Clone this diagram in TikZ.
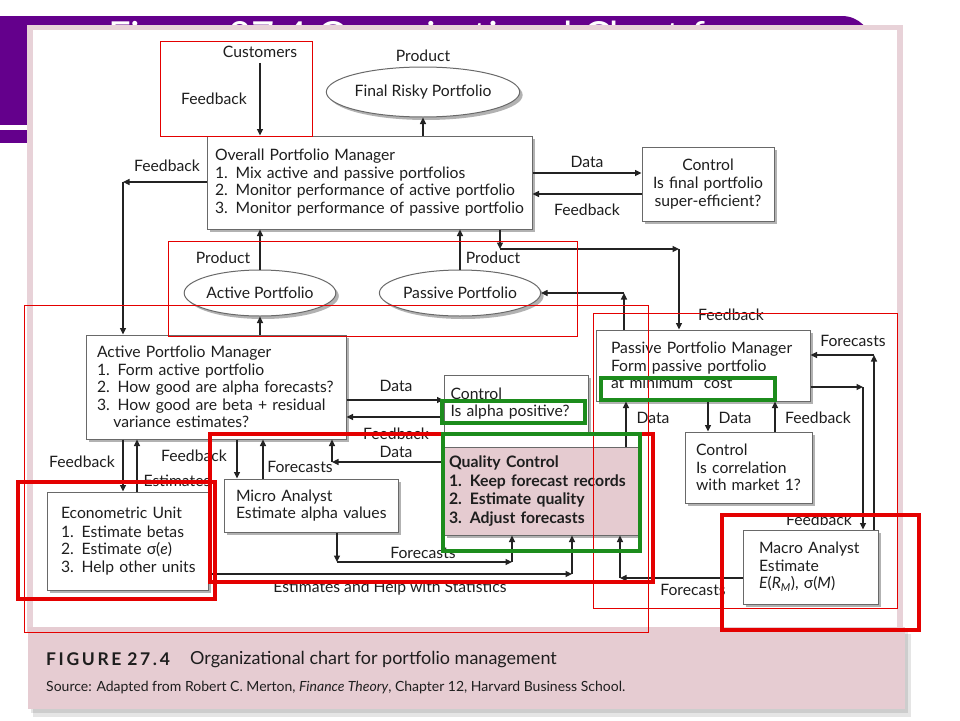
\documentclass[tikz,border=0pt]{standalone}
\usepackage{fontspec}
\setmainfont{Lato}
\usetikzlibrary{shapes.geometric,shadows,arrows.meta}
\definecolor{ttl}{RGB}{100,0,140}
\definecolor{pinkb}{RGB}{232,210,216}
\definecolor{capc}{RGB}{230,204,210}
\definecolor{qcpink}{RGB}{229,203,208}
\definecolor{lnc}{RGB}{35,35,35}
\definecolor{boxc}{RGB}{105,105,105}
\definecolor{txc}{RGB}{30,30,30}
\definecolor{annred}{RGB}{228,0,0}
\definecolor{anngreen}{RGB}{28,140,28}
\newcommand{\fs}{\fontsize{15.7}{17.6}\selectfont}
\newcommand{\fsb}{\fontsize{15.8}{18.5}\selectfont\bfseries}
\begin{document}
\begin{tikzpicture}[x=1pt,y=-1pt,
  box/.style={draw=boxc, line width=1pt, fill=white, text=txc,
     drop shadow={shadow xshift=3pt, shadow yshift=-3pt, opacity=0.3, fill=black},
     font=\fs, align=left, inner ysep=0pt},
  ell/.style={ellipse, draw=boxc, line width=1pt, fill=white, text=txc, font=\fs, inner sep=0pt,
     drop shadow={shadow xshift=3pt, shadow yshift=-3pt, opacity=0.3, fill=black}},
  arr/.style={draw=lnc, line width=1.2pt, -{Triangle[length=6.5pt,width=6pt]}},
  lbl/.style={font=\fs, text=txc, inner sep=0pt},
  thinred/.style={draw=annred, line width=1pt},
  thickred/.style={draw=annred, line width=3.5pt},
  thickgreen/.style={draw=anngreen, line width=4pt}]
% background
\useasboundingbox (0,0) rectangle (960,720);
\fill[white] (0,0) rectangle (960,720);
\fill[ttl, rounded corners=30pt] (-40,16) rectangle (872,300);
\fill[white] (-1,125) rectangle (27,130);
\fill[white] (-1,143) rectangle (27,301);
\node[anchor=base west, inner sep=0pt, text=white, font=\fontsize{40}{44}\selectfont] (title) at (108,50) {Figure 27.4 Organizational Chart for};
% panel
\fill[pinkb] (27,25) rectangle (903,632);
\fill[white] (33,30) rectangle (897,627);
\fill[black, opacity=0.10] (33,634) rectangle (911,717);
\fill[black, opacity=0.10] (31,632) rectangle (908,713);
\fill[capc] (28,627) rectangle (905,709);
\node[anchor=base west, inner sep=0pt, text=txc, font=\fontsize{17.5}{20}\selectfont\bfseries\addfontfeatures{LetterSpace=15}] (fig) at (46,665) {FIGURE\hspace{6pt}27.4};
\node[anchor=base west, inner sep=0pt, text=txc, font=\fontsize{18}{21}\selectfont] (capt) at (190,664) {Organizational chart for portfolio management};
\node[anchor=base west, inner sep=0pt, text=txc, font=\fontsize{14}{16}\selectfont] (src) at (46,691) {Source: Adapted from Robert C. Merton, \textit{Finance Theory}, Chapter 12, Harvard Business School.};
% nodes
\node[ell, minimum width=177pt, minimum height=50pt] (frp) at (423,92) {Final Risky Portfolio};
\node[box, minimum width=325pt, minimum height=93pt, text width=309pt, inner xsep=8pt] (opm) at (369.5,182.5)
 {Overall Portfolio Manager\\1. Mix active and passive portfolios\\2. Monitor performance of active portfolio\\3. Monitor performance of passive portfolio};
\node[box, align=center, minimum width=132pt, minimum height=74pt, text width=124pt, inner xsep=4pt] (ctl1) at (708,184)
 {Control\\Is final portfolio\\super-efficient?};
\node[ell, minimum width=150pt, minimum height=46pt] (ap) at (260,293) {Active Portfolio};
\node[ell, minimum width=150pt, minimum height=46pt] (pp) at (460,293) {Passive Portfolio};
\node[box, minimum width=260pt, minimum height=104pt, text width=238pt, inner xsep=11pt] (apm) at (216,387)
 {Active Portfolio Manager\\1. Form active portfolio\\2. How good are alpha forecasts?\\3. How good are beta + residual\\\hspace*{1.05em}variance estimates?};
\node[box, minimum width=144pt, minimum height=57pt, text width=131pt, inner xsep=6.5pt] (ctla) at (516,403.5)
 {Control\\Is alpha positive?};
\node[box, fill=qcpink, font=\fsb, minimum width=194pt, minimum height=88pt, text width=184pt, inner xsep=5pt] (qc) at (541,491)
 {Quality Control\\1. Keep forecast records\\2. Estimate quality\\3. Adjust forecasts};
\node[box, minimum width=174pt, minimum height=53pt, text width=150pt, inner xsep=12pt] (micro) at (311,505.5)
 {\mbox{Micro Analyst}\\\mbox{Estimate alpha values}};
\node[box, minimum width=161pt, minimum height=98pt, text width=133pt, inner xsep=14pt] (econ) at (127.5,541)
 {\mbox{Econometric Unit}\\[1.5pt]\mbox{1. Estimate betas}\\\mbox{2. Estimate σ(\textit{e})}\\\mbox{3. Help other units}};
\node[box, minimum width=214pt, minimum height=71pt, text width=184pt, inner xsep=15pt] (ppm) at (703,365.5)
 {Passive Portfolio Manager\\Form passive portfolio\\at minimum\ \ cost};
\node[box, minimum width=127pt, minimum height=71pt, text width=105pt, inner xsep=11pt] (corr) at (748.5,467.5)
 {Control\\Is correlation\\with market 1?};
\node[box, minimum width=135pt, minimum height=74pt, text width=103pt, inner xsep=16pt] (macro) at (810.5,567)
 {Macro Analyst\\Estimate\\\textit{E}(\textit{R}\textsubscript{\textit{M}}), σ(\textit{M})};
% labels
\node[lbl] (lcust) at (260,52) {Customers};
\node[lbl] (l1) at (214,99) {Feedback};
\node[lbl] (l2) at (423,56) {Product};
\node[lbl] (l3) at (167,166) {Feedback};
\node[lbl] (l4) at (587,162) {Data};
\node[lbl] (l5) at (587,210) {Feedback};
\node[lbl] (l6) at (223,258) {Product};
\node[lbl] (l7) at (493,258) {Product};
\node[lbl] (l8) at (731,315) {Feedback};
\node[lbl] (l9) at (396,386) {Data};
\node[lbl] (l10) at (396,434) {Feedback};
\node[lbl] (l11) at (396,452) {Data};
\node[lbl] (l12) at (82,462) {Feedback};
\node[lbl] (l13) at (177,481) {Estimates};
\node[lbl] (l14) at (194,456) {Feedback};
\node[lbl] (l15) at (300,467) {Forecasts};
\node[lbl] (l16) at (423,553) {Forecasts};
\node[lbl] (l17) at (390,588) {Estimates and Help with Statistics};
\node[lbl] (l18) at (693,590) {Forecasts};
\node[lbl] (l19) at (653,418) {Data};
\node[lbl] (l20) at (735,418) {Data};
\node[lbl] (l21) at (818,418) {Feedback};
\node[lbl] (l22) at (819,520) {Feedback};
\node[lbl] (l23) at (853,341) {Forecasts};
% coordinates
\coordinate (c1) at (123,182);
\coordinate (c2) at (500,249);
\coordinate (c3) at (679,249);
\coordinate (c4) at (624,293);
\coordinate (c5) at (332,462);
\coordinate (c6) at (337,562);
\coordinate (c7) at (512,562);
\coordinate (c8) at (572,574);
\coordinate (c9) at (620,578);
\coordinate (c10) at (863,387);
\coordinate (c11) at (874,355);
\coordinate (ya) at (0,173);
\coordinate (yb) at (0,194);
\coordinate (yc) at (0,400);
\coordinate (yd) at (0,417);
\coordinate (xa) at (123,0);
\coordinate (xb) at (137,0);
\coordinate (xc) at (237,0);
\coordinate (xd) at (263,0);
\coordinate (xe) at (626,0);
\coordinate (xf) at (708,0);
\coordinate (xg) at (775,0);
% connectors
\draw[arr] ([yshift=-5pt]lcust.south) -- (lcust.south |- opm.north);
\draw[arr] (opm.north -| frp.south) -- (frp.south);
\draw[arr] (opm.west |- c1) -- (c1);
\draw[arr] (c1) -- (c1 |- apm.north);
\draw[arr] (opm.east |- ya) -- (ctl1.west |- ya);
\draw[arr] (ctl1.west |- yb) -- (opm.east |- yb);
\draw[arr] (ap.north) -- (ap.north |- opm.south);
\draw[arr] (pp.north) -- (pp.north |- opm.south);
\draw[arr] (opm.south -| c2) -- (c2);
\draw[arr] (c2) -- (c3);
\draw[arr] (c3) -- (c3 |- ppm.north);
\draw[arr] (ppm.north -| c4) -- (c4);
\draw[arr] (c4) -- (pp.east);
\draw[arr] (apm.north -| ap.south) -- (ap.south);
\draw[arr] (apm.east |- yc) -- (ctla.west |- yc);
\draw[arr] (ctla.west |- yd) -- (apm.east |- yd);
\draw[arr] (qc.west |- c5) -- (c5);
\draw[arr] (c5) -- (c5 |- apm.south);
\draw[arr] (apm.south -| xa) -- (econ.north -| xa);
\draw[arr] (econ.north -| xb) -- (apm.south -| xb);
\draw[arr] (apm.south -| xc) -- (micro.north -| xc);
\draw[arr] (micro.north -| xd) -- (apm.south -| xd);
\draw[arr] (micro.south -| c6) -- (c6);
\draw[arr] (c6) -- (c7);
\draw[arr] (c7) -- (c7 |- qc.south);
\draw[arr] (econ.east |- c8) -- (c8);
\draw[arr] (c8) -- (c8 |- qc.south);
\draw[arr] (macro.west |- c9) -- (c9);
\draw[arr] (c9) -- (c9 |- qc.south);
\draw[arr] (qc.north -| xe) -- (ppm.south -| xe);
\draw[arr] (ppm.south -| xf) -- (corr.north -| xf);
\draw[arr] (corr.north -| xg) -- (ppm.south -| xg);
\draw[arr] (ppm.east |- c10) -- (c10);
\draw[arr] (c10) -- (c10 |- macro.north);
\draw[arr] (macro.north -| c11) -- (c11);
\draw[arr] (c11) -- (ppm.east |- c11);
% annotations
\draw[thinred] (160,41) rectangle (312,136);
\draw[thinred] (168,241) rectangle (577,336);
\draw[thinred] (24,305) rectangle (648,632);
\draw[thinred] (593,313) rectangle (897,608);
\draw[thickred] (18,482) rectangle (215,599);
\draw[thickred] (210,434) rectangle (653,582);
\draw[thickred] (722,515) rectangle (919,630);
\draw[thickgreen] (442,401) rectangle (585,423);
\draw[thickgreen] (443,434) rectangle (640,551);
\draw[thickgreen] (601,378) rectangle (775,400);
\end{tikzpicture}
\end{document}
